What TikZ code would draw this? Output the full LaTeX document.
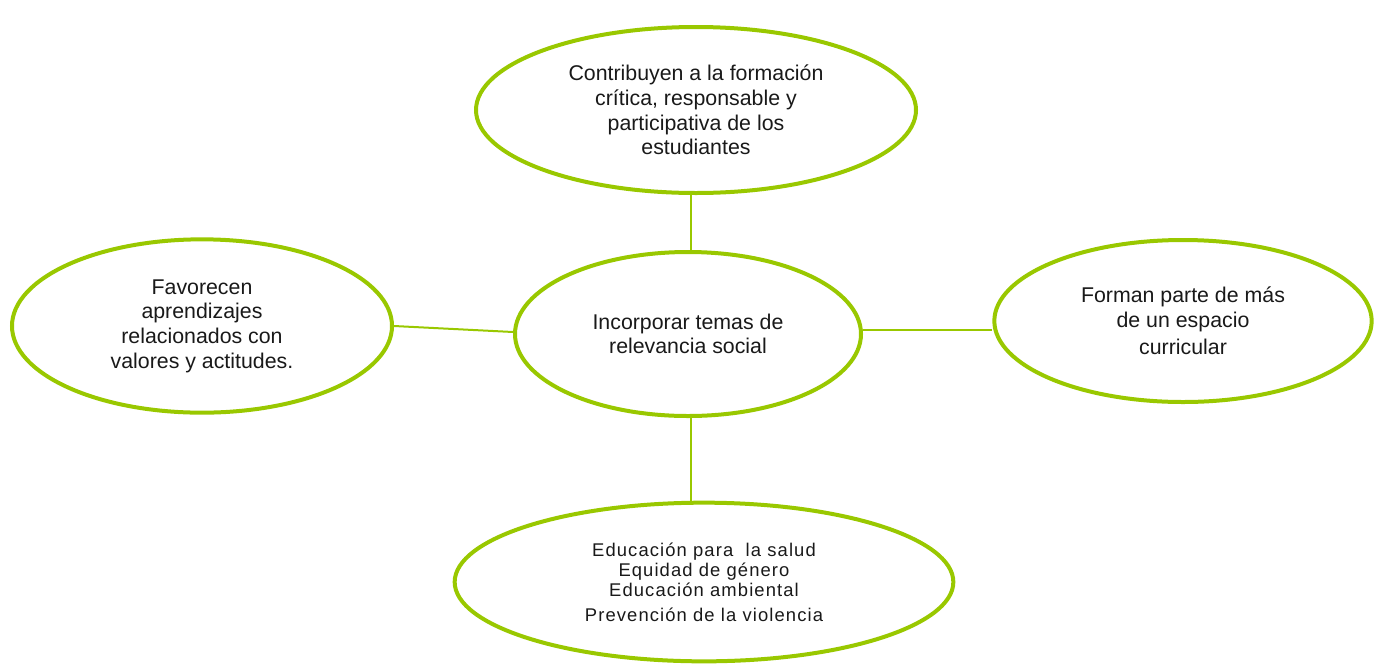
\documentclass[tikz,border=0pt]{standalone}
\usepackage{fontspec}
\setmainfont{Liberation Sans}
\usetikzlibrary{shapes.geometric,calc}
\definecolor{lime}{HTML}{99C800}
\begin{document}
\begin{tikzpicture}[x=0.75pt,y=-0.75pt,
  bubble/.style={ellipse,draw=lime,line width=3pt,align=center,inner sep=0pt,
    font=\fontsize{16}{18.5}\selectfont,text=black!90},
  link/.style={draw=lime,line width=1.5pt}]
\useasboundingbox (0,0) rectangle (1384,665);
\node[bubble,minimum width=330pt,minimum height=124.5pt] (top) at (696,110)
  {Contribuyen a la formación\\crítica, responsable y\\participativa de los\\estudiantes};
\node[bubble,minimum width=259.5pt,minimum height=123pt] (center) at (688,334)
  {Incorporar temas de\\relevancia social};
\node[bubble,minimum width=285pt,minimum height=130pt] (left) at (202,326)
  {Favorecen\\aprendizajes\\relacionados con\\valores y actitudes.};
\node[bubble,minimum width=283pt,minimum height=121.5pt] (right) at (1183,321)
  {Forman parte de más\\de un espacio\\[2pt]curricular};
\node[bubble,minimum width=374pt,minimum height=119pt,
  font=\fontsize{13.8}{15.2}\selectfont\addfontfeatures{LetterSpace=6}] (bottom) at (704,582)
  {Educación para\ \ la salud\\Equidad de género\\Educación ambiental\\[3pt]Prevención de la violencia};
\draw[link] (center.north) ++(3,0) coordinate (ct) -- (ct |- top.south);
\draw[link] (center.south) ++(3,0) coordinate (cb) -- (cb |- bottom.north);
\draw[link] (left.east) -- ($(center.west)+(0,-2)$);
\draw[link] ($(center.east)+(0,-4)$) coordinate (ce) -- (ce -| right.west);
\end{tikzpicture}
\end{document}
